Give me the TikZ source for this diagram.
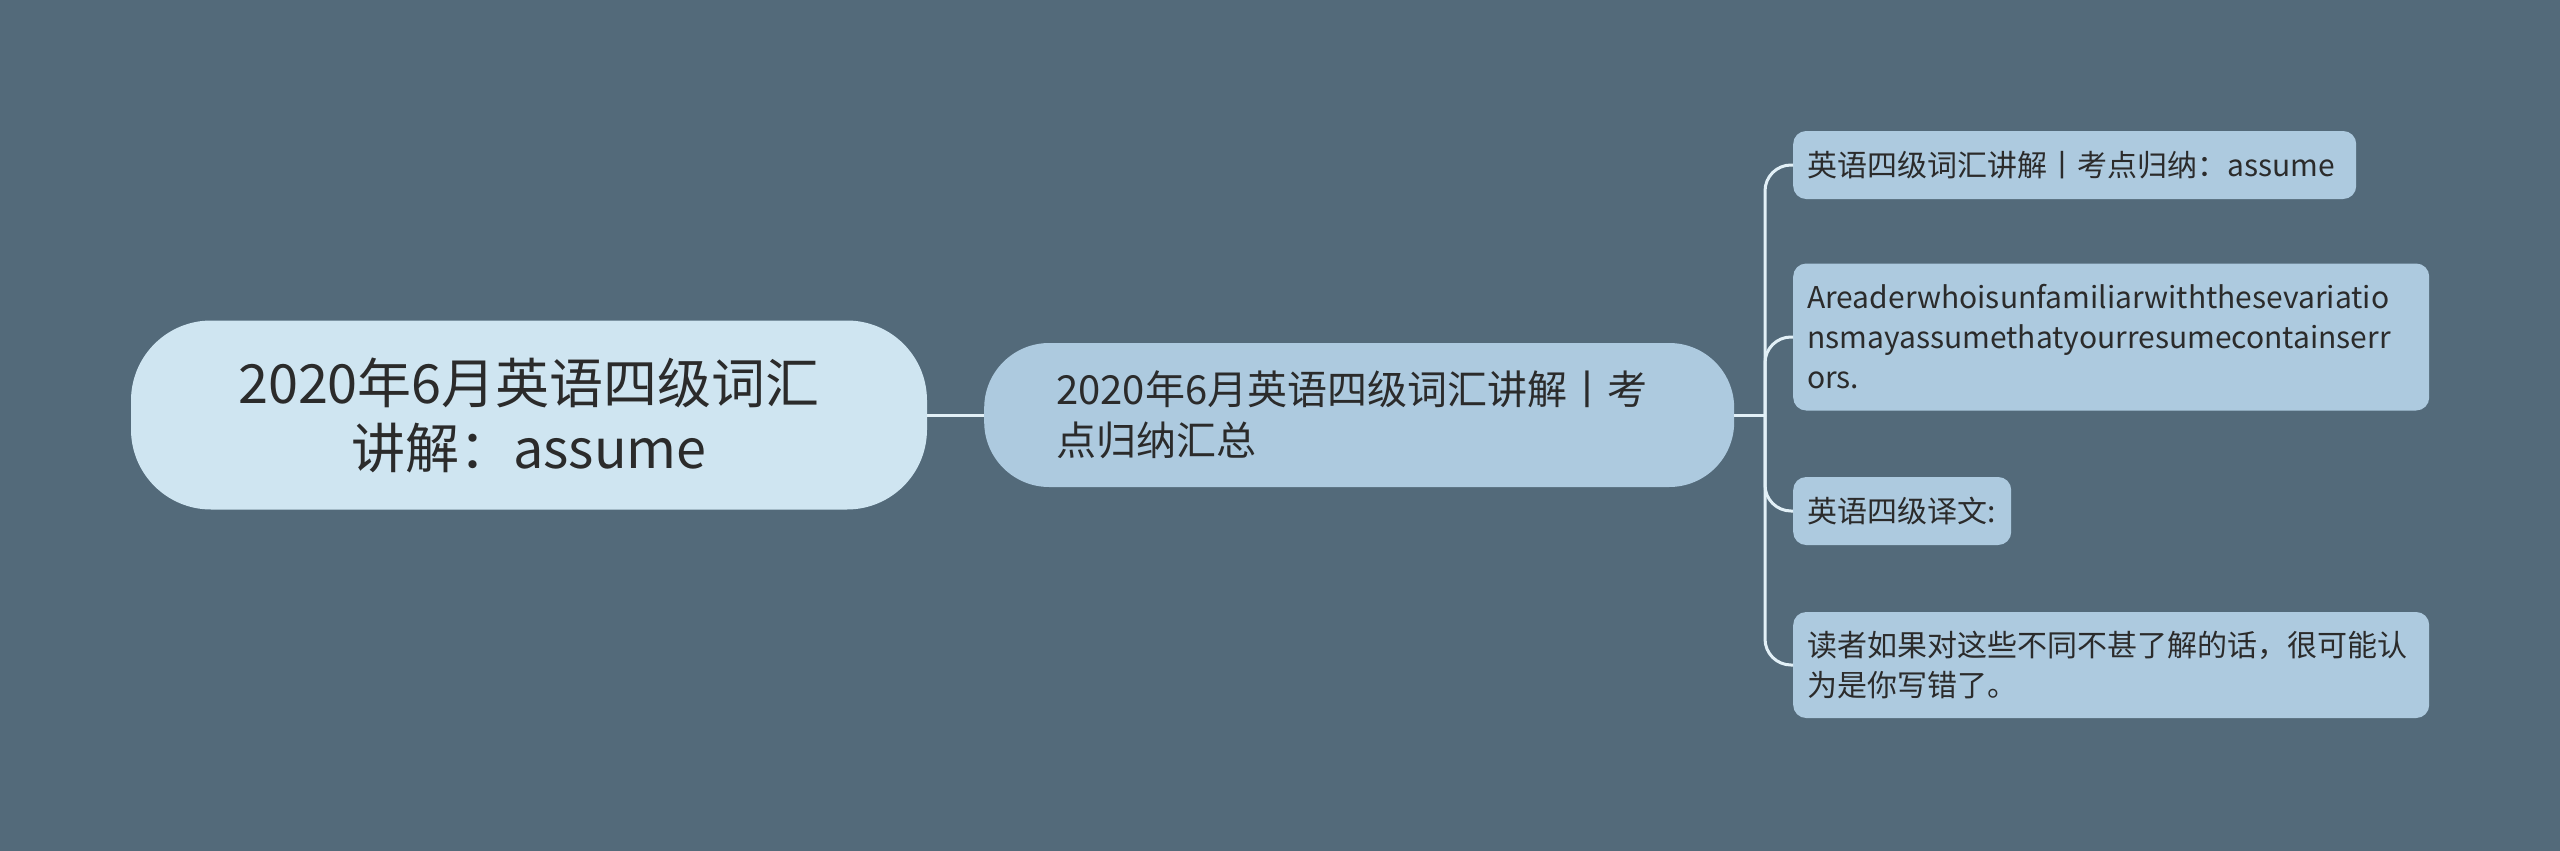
\documentclass[tikz,border=0pt]{standalone}
\usepackage{fontspec}
\setmainfont{Noto Sans CJK SC}
\usetikzlibrary{positioning}
\definecolor{bgcol}{HTML}{536A7A}
\definecolor{rootcol}{HTML}{CFE5F1}
\definecolor{nodecol}{HTML}{ADCADF}
\definecolor{linkcol}{HTML}{E2F0F7}
\definecolor{textcol}{HTML}{2B2B2B}

\begin{document}
\begin{tikzpicture}[x=1pt,y=-1pt,
    rootbox/.style={fill=rootcol,rounded corners=80pt,text=textcol,align=center,
        minimum width=796pt,minimum height=189pt,
        font=\fontsize{54}{65}\selectfont},
    mainbox/.style={fill=nodecol,rounded corners=65pt,text=textcol,align=left,
        text width=606pt,inner xsep=72pt,minimum height=144pt,anchor=west,
        font=\fontsize{40}{51}\selectfont},
    leafbox/.style={fill=nodecol,rounded corners=13pt,text=textcol,align=left,
        inner xsep=14pt,anchor=west,
        font=\fontsize{30}{40}\selectfont},
    link/.style={draw=linkcol,line width=3pt}]
            % Background
            \fill[bgcol] (0,0) rectangle (2560,851);
            \useasboundingbox (0,0) rectangle (2560,851);
            
            % Root and main topic
            \node[rootbox] (root) at (529,415) {2020年6月英语四级词汇\\讲解：assume};
            \node[mainbox] (main) at (984,415) {2020年6月英语四级词汇讲解丨考\\点归纳汇总};
            
            % Leaves
            \node[leafbox,text width=535pt,minimum height=68pt] (title) at (1793,165)
                {英语四级词汇讲解丨考点归纳：assume};
            \node[leafbox,text width=608pt,minimum height=147pt] (english) at (1793,337)
                {Areaderwhoisunfamiliarwiththesevariatio\\nsmayassumethatyourresumecontainserr\\ors.};
            \node[leafbox,text width=190pt,minimum height=68pt] (label) at (1793,511)
                {英语四级译文:};
            \node[leafbox,text width=608pt,minimum height=106pt] (chinese) at (1793,665)
                {读者如果对这些不同不甚了解的话，很可能认\\为是你写错了。};
            
            % Connectors
            \coordinate (fork) at (1765,415);
            \draw[link] (root) -- (main);
            \draw[link] (main) -- (fork);
            \foreach \leaf in {title,english,label,chinese}
                \draw[link,rounded corners=26pt] (fork) |- (\leaf.west);
\end{tikzpicture}
\end{document}
